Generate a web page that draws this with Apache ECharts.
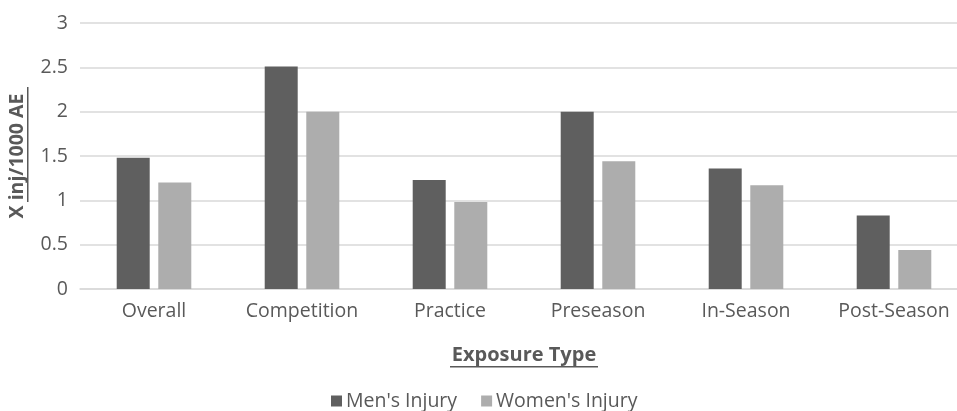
<!DOCTYPE html>
<html>
<head>
<meta charset="utf-8">
<script src="https://cdn.jsdelivr.net/npm/echarts@6/dist/echarts.min.js"></script>
<style>html,body{margin:0;padding:0;background:#fff}#c{width:957px;height:411px}</style>
</head>
<body>
<div id="c"></div>
<script>
const categories = ['Overall', 'Competition', 'Practice', 'Preseason', 'In-Season', 'Post-Season'];
const mensInjury = [1.48, 2.51, 1.23, 2.0, 1.36, 0.83];
const womensInjury = [1.20, 2.0, 0.98, 1.44, 1.17, 0.44];
const yTicks = { min: 0, max: 3, interval: 0.5 };

const FONT = '"Open Sans", sans-serif';
const TXT = '#595959';
const chart = echarts.init(document.getElementById('c'), null, { renderer: 'canvas' });
chart.setOption({
  animation: false,
  backgroundColor: '#ffffff',
  textStyle: { fontFamily: FONT },
  grid: { left: 80, right: -11, top: 23, bottom: 122, containLabel: false, outerBoundsMode: 'none' },
  legend: {
    data: ["Men's Injury", "Women's Injury"],
    left: 326, top: 386,
    itemWidth: 11, itemHeight: 11, itemGap: 24,
    icon: 'rect',
    textStyle: { fontFamily: FONT, fontSize: 19.5, color: TXT, padding: [0, 0, 0, -1] }
  },
  xAxis: {
    type: 'category',
    data: categories,
    name: 'Exposure Type',
    nameLocation: 'middle',
    nameGap: 56,
    nameTextStyle: { fontFamily: FONT, fontSize: 20, fontWeight: 'bold', color: TXT },
    axisLine: { show: true, lineStyle: { color: '#d9d9d9', width: 1.5 } },
    axisTick: { show: false },
    axisLabel: { fontFamily: FONT, fontSize: 19.5, color: TXT, margin: 12 }
  },
  yAxis: {
    type: 'value',
    min: yTicks.min, max: yTicks.max, interval: yTicks.interval,
    name: 'X inj/1000 AE',
    nameLocation: 'middle',
    nameGap: 53,
    nameRotate: 90,
    nameTextStyle: { fontFamily: FONT, fontSize: 19.5, fontWeight: 'bold', color: TXT },
    axisLine: { show: false },
    axisTick: { show: false },
    axisLabel: { fontFamily: FONT, fontSize: 19.5, color: TXT, margin: 12 },
    splitLine: { lineStyle: { color: '#d9d9d9', width: 1.5 } }
  },
  series: [
    { name: "Men's Injury", type: 'bar', data: mensInjury, barWidth: 33, barGap: '26%',
      itemStyle: { color: '#5f5f5f' } },
    { name: "Women's Injury", type: 'bar', data: womensInjury, barWidth: 33,
      itemStyle: { color: '#adadad' } }
  ],
  graphic: [
    { type: 'rect', shape: { x: 450, y: 366, width: 148, height: 1.5 }, style: { fill: TXT } },
    { type: 'rect', shape: { x: 27, y: 87, width: 1.5, height: 115 }, style: { fill: TXT } }
  ]
});
</script>
</body>
</html>
